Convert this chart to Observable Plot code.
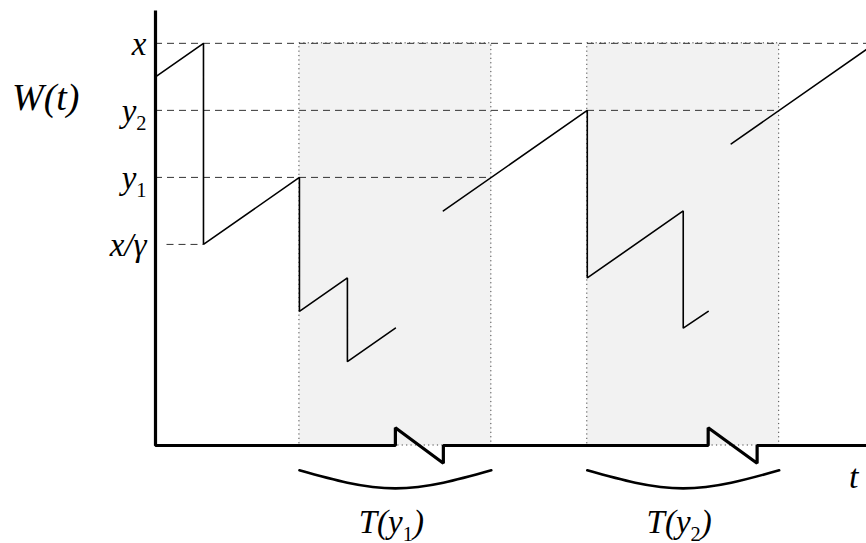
<!DOCTYPE html>
<html><head><meta charset="utf-8">
<script src="https://cdn.jsdelivr.net/npm/d3@7"></script>
<script src="https://cdn.jsdelivr.net/npm/@observablehq/plot@0.6"></script>
<style>
body{margin:0;background:#fff}
#wrap{position:relative;width:866px;height:543px}
#ylab{position:absolute;left:12px;top:78px;font:italic 38px/38px "Liberation Serif";color:#000;white-space:nowrap}
</style>
</head><body><div id="wrap"><div id="chart"></div><div id="ylab"></div></div>
<script>
const yAxisLabel = "W(t)";
// Level values on W axis and their labels
const levelValues = [6, 5, 4, 3];
const levelLabels = ["x", "y_2", "y_1", "x/γ"];
const levelLineStart = [0, 0, 0, 0.12];
const levelLineEnd = [7.41, 6.5, 3.5, 0.5];

// Sawtooth work process W(t), three visible pieces
const pathA_t = [0, 0.5, 0.5, 1.5, 1.5, 2.0, 2.0, 2.5];
const pathA_W = [5.5, 6, 3, 4, 2, 2.5, 1.25, 1.75];
const pathB_t = [3.0, 4.5, 4.5, 5.5, 5.5, 5.76];
const pathB_W = [3.5, 5, 2.5, 3.5, 1.75, 2.0];
const pathC_t = [6.0, 7.41];
const pathC_W = [4.5, 5.91];

// Intervals T(y1), T(y2)
const intervalStart = [1.5, 4.5];
const intervalEnd = [3.5, 6.5];
const intervalTop = 6;
const intervalLabels = ["T(y_1)", "T(y_2)"];

// Axis breaks on the time axis
const breakStart = [2.5, 5.76];
const breakEnd = [3.0, 6.27];
const breakHalf = 0.264;
const tMax = 7.41;
const wTop = 6.49;
const braceEnd = -0.37, braceMid = -0.64;

const pieces = [[pathA_t, pathA_W], [pathB_t, pathB_W], [pathC_t, pathC_W]]
  .flatMap(([ts, ws], k) => ts.map((t, i) => ({t, w: ws[i], k})));

const axisPts = [{t: 0, w: wTop}, {t: 0, w: 0}];
breakStart.forEach((s, i) => {
  axisPts.push({t: s, w: 0}, {t: s, w: breakHalf}, {t: breakEnd[i], w: -breakHalf}, {t: breakEnd[i], w: 0});
});
axisPts.push({t: tMax, w: 0});

const levels = levelValues.map((v, i) => ({v, label: levelLabels[i], x1: levelLineStart[i], x2: levelLineEnd[i]}));
const intervals = intervalStart.map((s, i) => ({s, e: intervalEnd[i], label: intervalLabels[i], m: (s + intervalEnd[i]) / 2}));
const braces = intervals.flatMap((d, k) => [
  {t: d.s, w: braceEnd, k}, {t: d.m, w: braceMid, k}, {t: d.e, w: braceEnd, k}
]);

const plot = Plot.plot({
  width: 866, height: 543,
  marginLeft: 155, marginRight: 0, marginTop: 10, marginBottom: 98,
  x: {domain: [0, tMax], axis: null},
  y: {domain: [0, wTop], axis: null},
  marks: [
    Plot.rect(intervals, {x1: "s", x2: "e", y1: 0, y2: intervalTop, fill: "#f2f2f2",
      stroke: "#444", strokeWidth: 1, strokeDasharray: "1.2,3.2"}),
    Plot.ruleY(levels, {y: "v", x1: "x1", x2: "x2", stroke: "#333", strokeWidth: 1, strokeDasharray: "7,5"}),
    Plot.line(pieces, {x: "t", y: "w", z: "k", stroke: "#000", strokeWidth: 1.6, strokeLinejoin: "miter"}),
    Plot.line(axisPts, {x: "t", y: "w", stroke: "#000", strokeWidth: 3.2, strokeLinejoin: "miter", strokeLinecap: "butt"}),
    Plot.line(braces, {x: "t", y: "w", z: "k", curve: "natural", stroke: "#000", strokeWidth: 2.6}),
    Plot.text(levels, {x: 0, y: "v", text: "label", textAnchor: "end", dx: -9, dy: 1,
      fontSize: 33, fontStyle: "italic", fontFamily: "Liberation Serif", fill: "#000"}),
    Plot.text(intervals, {x: "m", y: 0, text: "label", lineAnchor: "bottom", dx: -4, dy: 87,
      fontSize: 33, fontStyle: "italic", fontFamily: "Liberation Serif", fill: "#000"}),
    Plot.text(["t"], {x: tMax, y: 0, textAnchor: "end", lineAnchor: "bottom", dx: -8, dy: 42,
      fontSize: 34, fontStyle: "italic", fontFamily: "Liberation Serif", fill: "#000"})
  ]
});
plot.setAttribute("font-family", "Liberation Serif");

// subscripts: "a_1b" -> a<sub>1</sub>b
d3.select(plot).selectAll("text").each(function () {
  const el = d3.select(this);
  const s = this.textContent;
  const m = s.match(/^(.*?)_(\d)(.*)$/);
  if (!m) return;
  el.text(null);
  el.append("tspan").text(m[1]);
  el.append("tspan").attr("dy", 8).attr("font-size", "62%").attr("font-style", "normal").text(m[2]);
  if (m[3]) el.append("tspan").attr("dy", -8).text(m[3]);
});

document.getElementById("chart").appendChild(plot);
document.getElementById("ylab").textContent = yAxisLabel;
</script>
</body></html>
